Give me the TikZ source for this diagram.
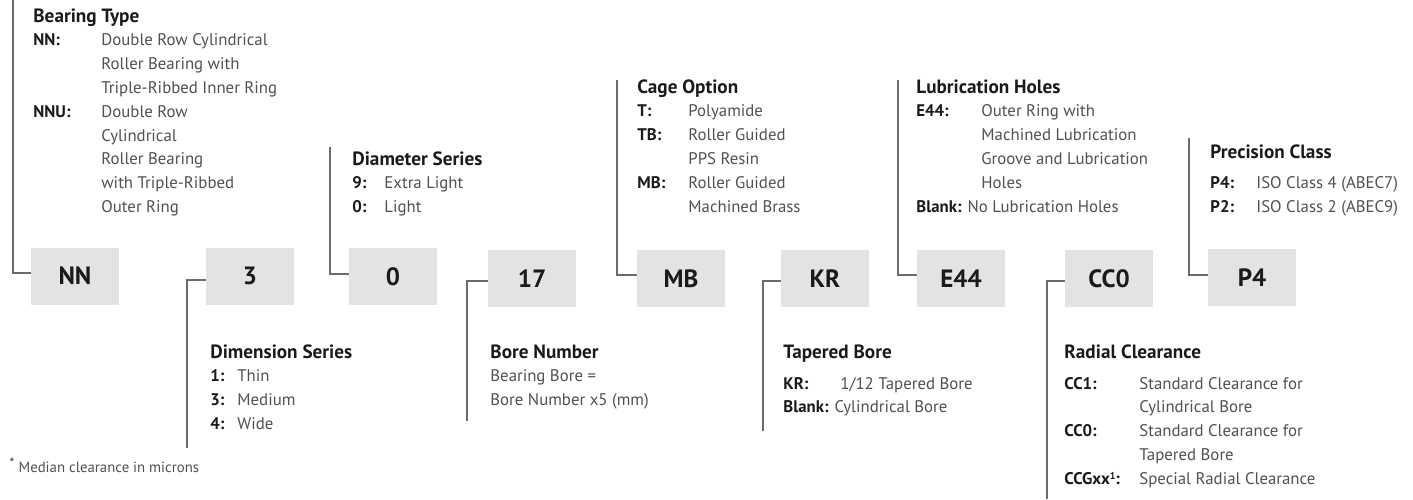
\documentclass[tikz,border=0pt]{standalone}
\usepackage{fontspec}
\setmainfont{PT Sans}
\usepackage{xcolor}
\definecolor{cbox}{HTML}{E3E3E3}
\definecolor{cline}{HTML}{6B6B6B}
\definecolor{ctext}{HTML}{505050}
\definecolor{chead}{HTML}{1A1A1A}
\newcommand{\lbl}[1]{\textcolor{chead}{\bfseries #1}}
\newcommand{\ttl}[1]{\textcolor{chead}{\fontsize{9.6}{11.9}\selectfont\bfseries #1}}

\begin{document}
\begin{tikzpicture}[
    x=0.5pt, y=-0.5pt,
    code/.style={fill=cbox, minimum width=44pt, minimum height=28.5pt, inner sep=0pt,
                 font=\fontsize{12.5}{14}\selectfont\bfseries, text=chead},
    info/.style={anchor=base west, inner sep=0pt, font=\fontsize{8.4}{11.9}\selectfont, text=ctext},
    link/.style={draw=cline, line width=1pt}
]
\useasboundingbox (0,0) rectangle (1413,499);
\node[code] (nn)  at (75,276)    {NN};
\node[code] (dim) at (250,276)   {3};
\node[code] (dia) at (393,276.5) {0};
\node[code] (bore) at (532,278.5) {17};
\node[code] (cage) at (681,278.5) {MB};
\node[code] (kr)  at (825,278.5) {KR};
\node[code] (lub) at (961,278.5) {E44};
\node[code] (cc)  at (1109,278.5) {CC0};
\node[code] (prec) at (1252,277.5) {P4};

\node[info] (tType) at (33,22) {\begin{tabular}[t]{@{}p{34pt}@{}l@{}}
\multicolumn{2}{@{}l@{}}{\ttl{Bearing Type}}\\
\lbl{NN:}  & Double Row Cylindrical\\
           & Roller Bearing with\\
           & Triple-Ribbed Inner Ring\\
\lbl{NNU:} & Double Row\\
           & Cylindrical\\
           & Roller Bearing\\
           & with Triple-Ribbed\\
           & Outer Ring
\end{tabular}};
\node[info] (tDia) at (352,165) {\begin{tabular}[t]{@{}p{16pt}@{}l@{}}
\multicolumn{2}{@{}l@{}}{\ttl{Diameter Series}}\\
\lbl{9:} & Extra Light\\
\lbl{0:} & Light
\end{tabular}};
\node[info] (tCage) at (637,93) {\begin{tabular}[t]{@{}p{25.5pt}@{}l@{}}
\multicolumn{2}{@{}l@{}}{\ttl{Cage Option}}\\
\lbl{T:}  & Polyamide\\
\lbl{TB:} & Roller Guided\\
          & PPS Resin\\
\lbl{MB:} & Roller Guided\\
          & Machined Brass
\end{tabular}};
\node[info] (tLub) at (916,93) {\begin{tabular}[t]{@{}p{32.5pt}@{}l@{}}
\multicolumn{2}{@{}l@{}}{\ttl{Lubrication Holes}}\\
\lbl{E44:} & Outer Ring with\\
           & Machined Lubrication\\
           & Groove and Lubrication\\
           & Holes\\
\multicolumn{2}{@{}l@{}}{\lbl{Blank:} No Lubrication Holes}
\end{tabular}};
\node[info] (tPrec) at (1210,158) {\begin{tabular}[t]{@{}p{23pt}@{}l@{}}
\multicolumn{2}{@{}l@{}}{\ttl{Precision Class}}\\[3.2pt]
\lbl{P4:} & ISO Class 4 (ABEC7)\\
\lbl{P2:} & ISO Class 2 (ABEC9)
\end{tabular}};
\node[info] (tDim) at (210,358) {\begin{tabular}[t]{@{}p{13.5pt}@{}l@{}}
\multicolumn{2}{@{}l@{}}{\ttl{Dimension Series}}\\
\lbl{1:} & Thin\\
\lbl{3:} & Medium\\
\lbl{4:} & Wide
\end{tabular}};
\node[info] (tBore) at (490,358) {\begin{tabular}[t]{@{}l@{}}
\ttl{Bore Number}\\
Bearing Bore =\\
Bore Number x5 (mm)
\end{tabular}};
\node[info] (tKr) at (783,358) {\begin{tabular}[t]{@{}p{28.5pt}@{}l@{}}
\multicolumn{2}{@{}l@{}}{\ttl{Tapered Bore}}\\[3.6pt]
\lbl{KR:} & 1/12 Tapered Bore\\
\multicolumn{2}{@{}l@{}}{\lbl{Blank:} Cylindrical Bore}
\end{tabular}};
\node[info] (tCc) at (1064,358) {\begin{tabular}[t]{@{}p{37.5pt}@{}l@{}}
\multicolumn{2}{@{}l@{}}{\ttl{Radial Clearance}}\\[3.6pt]
\lbl{CC1:} & Standard Clearance for\\
           & Cylindrical Bore\\
\lbl{CC0:} & Standard Clearance for\\
           & Tapered Bore\\
\lbl{CCGxx{\fontsize{5}{6}\selectfont\raisebox{2.6pt}{1}}:} & Special Radial Clearance
\end{tabular}};
\node[info, font=\fontsize{7.4}{9}\selectfont] (note) at (9,472) {\raisebox{2pt}{*} Median clearance in microns};

\coordinate (nnEnd)   at (13,0);
\coordinate (dimEnd)  at (187,448);
\coordinate (diaEnd)  at (330,147);
\coordinate (boreEnd) at (467,421);
\coordinate (cageEnd) at (617,80);
\coordinate (krEnd)   at (763,431);
\coordinate (lubEnd)  at (898,80);
\coordinate (ccEnd)   at (1047,499);
\coordinate (precEnd) at (1189,138);
\draw[link] (nnEnd) |- ([yshift=1.5pt]nn.west);
\draw[link] (diaEnd) |- ([yshift=1.5pt]dia.west);
\draw[link] (cageEnd) |- ([yshift=2pt]cage.west);
\draw[link] (lubEnd) |- ([yshift=2pt]lub.west);
\draw[link] (precEnd) |- ([yshift=1.2pt]prec.west);
\draw[link] ([yshift=-2pt]dim.west) -| (dimEnd);
\draw[link] ([yshift=-1.2pt]bore.west) -| (boreEnd);
\draw[link] ([yshift=-1.2pt]kr.west) -| (krEnd);
\draw[link] ([yshift=-1.2pt]cc.west) -| (ccEnd);
\end{tikzpicture}
\end{document}
